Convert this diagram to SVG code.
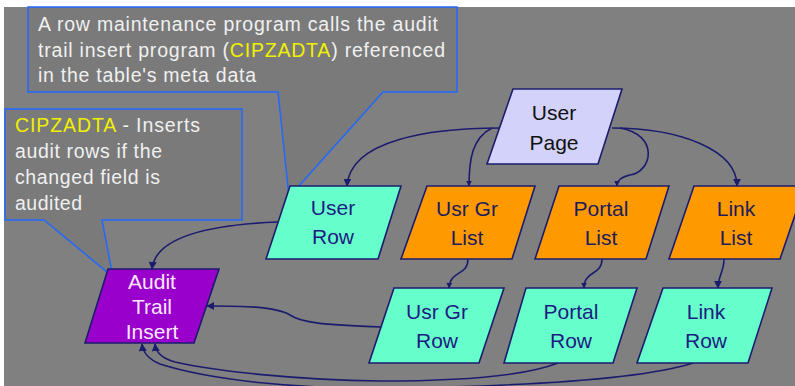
<svg xmlns="http://www.w3.org/2000/svg" width="795" height="386" viewBox="0 0 795 386">
<style>
.bg{fill:#808080}
.callout{fill:#7a7a7a;stroke:#2068ff;stroke-width:1.5}
.ct{font-family:"Liberation Sans",Arial,sans-serif;font-size:19.5px;fill:#f0f0f0}
.hl{fill:#f0f000}
.node{stroke:#1c1c6e;stroke-width:1.6}
.page{fill:#d2d2fa}
.list{fill:#ff9900}
.row{fill:#66ffcc}
.audit{fill:#9900cc}
.nt{font-family:"Liberation Sans",Arial,sans-serif;font-size:21px;text-anchor:middle}
.dark{fill:#1c1c5a}
.navy{fill:#1c1c80}
.blk{fill:#111111}
.wht{fill:#fbe8ff}
.edge{fill:none;stroke:#1c1c6e;stroke-width:1.6}
</style>
<defs>
<marker id="ah" viewBox="0 0 10 10" refX="9" refY="5" markerWidth="8" markerHeight="8" markerUnits="userSpaceOnUse" orient="auto">
<path d="M0,0 L10,5 L0,10 z" fill="#1c1c6e"/>
</marker>
<marker id="ahs" viewBox="0 0 10 10" refX="9" refY="5" markerWidth="6" markerHeight="6" markerUnits="userSpaceOnUse" orient="auto">
<path d="M0,0 L10,5 L0,10 z" fill="#1c1c6e"/>
</marker>
</defs>
<rect x="0" y="0" width="795" height="386" fill="#ffffff"/>
<rect class="bg" x="4" y="7" width="791" height="379"/>

<g id="callout-row-maintenance">
<path class="callout" d="M28,7 L457,7 L457,92 L383,92 L289,197 L278,92 L28,92 Z"/>
<text class="ct" x="38" y="31" textLength="400" lengthAdjust="spacing">A row maintenance program calls the audit</text>
<text class="ct" x="38" y="57" textLength="407" lengthAdjust="spacing">trail insert program (<tspan class="hl">CIPZADTA</tspan>) referenced</text>
<text class="ct" x="38" y="82" textLength="218" lengthAdjust="spacing">in the table's meta data</text>
</g>

<g id="callout-cipzadta">
<path class="callout" d="M5,109 L242,109 L242,220 L102,220 L113,277 L44,220 L5,220 Z"/>
<text class="ct" x="15" y="132" textLength="185" lengthAdjust="spacing"><tspan class="hl">CIPZADTA</tspan> - Inserts</text>
<text class="ct" x="15" y="158" textLength="147" lengthAdjust="spacing">audit rows if the</text>
<text class="ct" x="15" y="184" textLength="145" lengthAdjust="spacing">changed field is</text>
<text class="ct" x="15" y="210" textLength="67" lengthAdjust="spacing">audited</text>
</g>

<g id="connectors">
<path class="edge" marker-end="url(#ah)" d="M500,128 C430,128 350,140 347,186"/>
<path class="edge" marker-end="url(#ahs)" d="M492,128 C472,138 469,160 469,186"/>
<path class="edge" marker-end="url(#ahs)" d="M620,128 C660,135 652,172 630,175 C621,177 617,180 617,186"/>
<path class="edge" marker-end="url(#ah)" d="M612,128 C680,128 737,150 737,186"/>
<path class="edge" marker-end="url(#ahs)" d="M468,259 C468,276 450,270 449,288"/>
<path class="edge" marker-end="url(#ahs)" d="M602,259 C602,276 584,270 584,288"/>
<path class="edge" marker-end="url(#ah)" d="M724,259 C724,272 718,276 718,288"/>
<path class="edge" marker-end="url(#ah)" d="M278,222 C200,225 155,240 152,269"/>
<path class="edge" marker-end="url(#ah)" d="M382,327 C320,325 300,322 290,315 C275,306 240,306 207,306"/>
<path class="edge" marker-end="url(#ah)" d="M558,363 C520,378 440,381 380,381 C300,380 220,372 175,362 C162,358 156,353 155,344"/>
<path class="edge" marker-end="url(#ah)" d="M693,363 C640,380 520,386 400,388 C300,390 210,380 160,364 C148,359 143,353 142,344"/>
</g>

<g id="node-user-page">
<path class="node page" d="M513,89 L622,89 L598,164 L487,164 Z"/>
<text class="nt blk" x="554" y="120">User</text>
<text class="nt blk" x="554" y="150">Page</text>
</g>

<g id="node-user-row">
<path class="node row" d="M290,186 L401,186 L378,259 L266,259 Z"/>
<text class="nt navy" x="333" y="215">User</text>
<text class="nt navy" x="333" y="244">Row</text>
</g>

<g id="node-usrgr-list">
<path class="node list" d="M427,186 L535,186 L512,259 L401,259 Z"/>
<text class="nt dark" x="467" y="216">Usr Gr</text>
<text class="nt dark" x="467" y="245">List</text>
</g>

<g id="node-portal-list">
<path class="node list" d="M559,186 L669,186 L646,259 L535,259 Z"/>
<text class="nt dark" x="601" y="216">Portal</text>
<text class="nt dark" x="601" y="245">List</text>
</g>

<g id="node-link-list">
<path class="node list" d="M694,186 L805,186 L780,259 L669,259 Z"/>
<text class="nt dark" x="736" y="216">Link</text>
<text class="nt dark" x="736" y="245">List</text>
</g>

<g id="node-usrgr-row">
<path class="node row" d="M394,288 L504,288 L479,363 L369,363 Z"/>
<text class="nt navy" x="437" y="319">Usr Gr</text>
<text class="nt navy" x="437" y="348">Row</text>
</g>

<g id="node-portal-row">
<path class="node row" d="M526,288 L637,288 L613,363 L504,363 Z"/>
<text class="nt navy" x="571" y="319">Portal</text>
<text class="nt navy" x="571" y="348">Row</text>
</g>

<g id="node-link-row">
<path class="node row" d="M663,288 L772,288 L748,363 L637,363 Z"/>
<text class="nt navy" x="706" y="319">Link</text>
<text class="nt navy" x="706" y="348">Row</text>
</g>

<g id="node-audit-trail-insert">
<path class="node audit" d="M108,269 L219,269 L194,343 L85,343 Z"/>
<text class="nt wht" x="152" y="289">Audit</text>
<text class="nt wht" x="152" y="314">Trail</text>
<text class="nt wht" x="152" y="339">Insert</text>
</g>
</svg>
